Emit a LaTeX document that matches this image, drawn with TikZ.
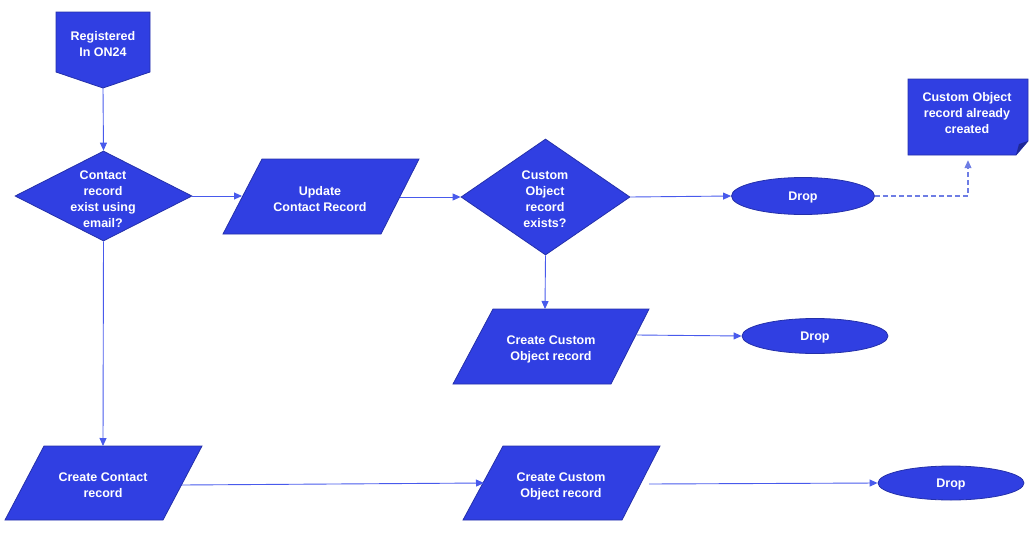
\documentclass[tikz,border=0pt]{standalone}
\usepackage{fontspec}
\setmainfont{Liberation Sans}
\usetikzlibrary{shapes.geometric,arrows.meta}
\definecolor{boxfill}{RGB}{48,63,226}
\definecolor{boxline}{RGB}{36,48,170}
\definecolor{conn}{RGB}{72,90,236}
\definecolor{dashc}{RGB}{110,125,228}
\definecolor{foldc}{RGB}{30,40,150}
\tikzset{
  shapebox/.style={fill=boxfill,draw=boxline,line width=0.8pt},
  txt/.style={text=white,font=\fontsize{12.5}{16}\selectfont\bfseries,align=center,inner sep=0pt},
  decision/.style={diamond,shapebox,inner sep=0pt},
  terminal/.style={ellipse,shapebox,inner sep=0pt},
  conn/.style={draw=conn,line width=0.9pt,-{Triangle[length=8pt,width=7pt]}},
  dashconn/.style={draw=dashc,line width=1.1pt,dash pattern=on 5pt off 3pt,-{Triangle[length=8pt,width=7pt]}},
}
\begin{document}
\begin{tikzpicture}[x=1pt,y=-1pt]
\useasboundingbox (0,0) rectangle (1034,533);
% start (off-page connector)
\path[shapebox] (56,12) -- (150,12) -- (150,72) -- (103,88) -- (56,72) -- cycle;
\node[txt] (start) at (103,44.5) {Registered\\In ON24};
\coordinate (startb) at (103,88);
% decision 1
\node[decision,minimum width=177pt,minimum height=90pt] (d1) at (103.5,196) {};
\node[txt] (d1t) at (103,199.5) {Contact\\record\\exist using\\email?};
% parallelogram 1
\path[shapebox] (262,159) -- (419,159) -- (381,234) -- (223,234) -- cycle;
\node[txt] (p1) at (320,199.5) {Update\\Contact Record};
\coordinate (p1w) at (242,196);
\coordinate (p1e) at (400,197);
% decision 2
\node[decision,minimum width=169pt,minimum height=116pt] (d2) at (545.5,197) {};
\node[txt] (d2t) at (545,199.5) {Custom\\Object\\record\\exists?};
% drop 1
\node[terminal,minimum width=143pt,minimum height=37pt] (drop1) at (803,196) {};
\node[txt] at ([yshift=-1.5pt]drop1) {Drop};
% note
\node[minimum width=120pt,minimum height=76pt,inner sep=0pt] (note) at (968,117) {};
\path[shapebox] (908,79) -- (1028,79) -- (1028,141) -- (1016,155) -- (908,155) -- cycle;
\path[fill=foldc] (1016,155) -- (1028,141) -- (1019,144) -- cycle;
\node[txt] (notet) at (967,113) {Custom Object\\record already\\created};
% parallelogram 2
\path[shapebox] (493,309) -- (649,309) -- (611,384) -- (453,384) -- cycle;
\node[txt] (p2) at (551,349) {Create Custom\\Object record};
\coordinate (p2n) at (545,309);
\coordinate (p2e) at (637,335);
% drop 2
\node[terminal,minimum width=146pt,minimum height=35pt] (drop2) at (815,336) {};
\node[txt] at ([yshift=-1.5pt]drop2) {Drop};
% parallelogram 3
\path[shapebox] (44,446) -- (202,446) -- (163,520) -- (5,520) -- cycle;
\node[txt] (p3) at (103,485) {Create Contact\\record};
\coordinate (p3n) at (103,446);
\coordinate (p3e) at (182,485);
% parallelogram 4
\path[shapebox] (503,446) -- (660,446) -- (622,520) -- (463,520) -- cycle;
\node[txt] (p4) at (561,486) {Create Custom\\Object record};
\coordinate (p4w) at (484,483);
\coordinate (p4e) at (649,484);
% drop 3
\node[terminal,minimum width=146pt,minimum height=34pt] (drop3) at (951,483) {};
\node[txt] at ([yshift=-1.5pt]drop3) {Drop};
% connectors
\draw[conn] (startb) -- (d1.north);
\draw[conn] (d1.east) -- (p1w);
\draw[conn] (p1e) -- (d2.west);
\draw[conn] (d2.east) -- (drop1.west);
\draw[dashconn,shorten >=5pt] (drop1.east) -| (note.south);
\draw[conn] (d2.south) -- (p2n);
\draw[conn] (p2e) -- (drop2.west);
\draw[conn] (d1.south) -- (p3n);
\draw[conn] (p3e) -- (p4w);
\draw[conn] (p4e) -- (drop3.west);
\end{tikzpicture}
\end{document}
